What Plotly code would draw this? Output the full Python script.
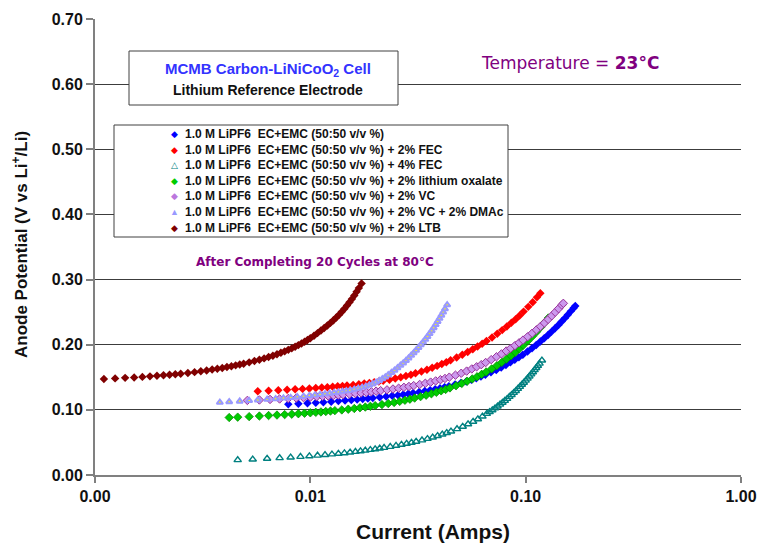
import plotly.graph_objects as go

# ---------------------------------------------------------------------------
# Anode potential vs. current, MCMB carbon / LiNiCoO2 cells (20 cycles at 80 C)
# ---------------------------------------------------------------------------

# 1.0 M LiPF6 EC+EMC (50:50 v/v %)
current_base = [0.0079, 0.0088, 0.0097, 0.0106, 0.0115, 0.0125, 0.0135, 0.0145, 0.0155, 0.0165,
                0.0175, 0.0185, 0.0195, 0.021, 0.0225, 0.024, 0.0255, 0.027, 0.0285, 0.03,
                0.032, 0.034, 0.036, 0.038, 0.04, 0.042, 0.044, 0.047, 0.05, 0.053,
                0.056, 0.059, 0.062, 0.065, 0.069, 0.073, 0.077, 0.081, 0.085, 0.089,
                0.093, 0.097, 0.102, 0.107, 0.112, 0.117, 0.122, 0.127, 0.132, 0.137,
                0.142, 0.147, 0.152, 0.157, 0.162, 0.167, 0.17]
potential_base = [0.1085, 0.1094, 0.1102, 0.1110, 0.1118, 0.1126, 0.1135, 0.1144, 0.1152, 0.1159,
                  0.1167, 0.1175, 0.1182, 0.1193, 0.1204, 0.1215, 0.1226, 0.1236, 0.1247, 0.1258,
                  0.1273, 0.1288, 0.1303, 0.1318, 0.1333, 0.1349, 0.1364, 0.1388, 0.1411, 0.1436,
                  0.1460, 0.1486, 0.1512, 0.1540, 0.1576, 0.1613, 0.1651, 0.1690, 0.1729, 0.1768,
                  0.1808, 0.1847, 0.1897, 0.1947, 0.1997, 0.2048, 0.2099, 0.2150, 0.2201, 0.2252,
                  0.2304, 0.2356, 0.2408, 0.2460, 0.2512, 0.2564, 0.2595]

# + 2% FEC
current_fec2 = [0.0057, 0.0064, 0.0071, 0.0078, 0.0085, 0.0092, 0.0099, 0.0106, 0.0113, 0.012,
                0.0127, 0.0134, 0.0141, 0.0148, 0.0158, 0.0168, 0.0178, 0.0188, 0.0198, 0.0208,
                0.0218, 0.0233, 0.0248, 0.0263, 0.0278, 0.0293, 0.0308, 0.0328, 0.0348, 0.0368,
                0.0388, 0.0408, 0.0428, 0.0448, 0.0478, 0.0508, 0.0538, 0.0568, 0.0598, 0.0628,
                0.0658, 0.0698, 0.0738, 0.0778, 0.0818, 0.0858, 0.0898, 0.0938, 0.0978, 0.1028,
                0.1078, 0.1128, 0.117]
potential_fec2 = [0.1285, 0.1293, 0.1300, 0.1308, 0.1315, 0.1322, 0.1329, 0.1335, 0.1342, 0.1348,
                  0.1354, 0.1361, 0.1367, 0.1373, 0.1383, 0.1393, 0.1403, 0.1413, 0.1423, 0.1434,
                  0.1446, 0.1463, 0.1481, 0.1499, 0.1520, 0.1540, 0.1561, 0.1589, 0.1617, 0.1646,
                  0.1675, 0.1704, 0.1732, 0.1761, 0.1803, 0.1846, 0.1888, 0.1930, 0.1972, 0.2014,
                  0.2056, 0.2112, 0.2168, 0.2224, 0.2280, 0.2336, 0.2392, 0.2450, 0.2508, 0.2581,
                  0.2653, 0.2727, 0.2790]

# + 4% FEC
current_fec4 = [0.0046, 0.0054, 0.0063, 0.0072, 0.0081, 0.009, 0.0099, 0.0108, 0.0117, 0.0126,
                0.0135, 0.0144, 0.0153, 0.0162, 0.0171, 0.018, 0.019, 0.02, 0.021, 0.022,
                0.0235, 0.025, 0.0265, 0.028, 0.0295, 0.031, 0.033, 0.035, 0.037, 0.039,
                0.041, 0.043, 0.045, 0.048, 0.051, 0.054, 0.057, 0.06, 0.063, 0.066,
                0.068, 0.07, 0.072, 0.074, 0.076, 0.078, 0.08, 0.082, 0.084, 0.086,
                0.088, 0.09, 0.092, 0.094, 0.096, 0.098, 0.1, 0.102, 0.104, 0.106,
                0.108, 0.11, 0.112, 0.114, 0.116, 0.119]
potential_fec4 = [0.0230, 0.0240, 0.0251, 0.0261, 0.0271, 0.0280, 0.0290, 0.0299, 0.0309, 0.0318,
                  0.0328, 0.0337, 0.0347, 0.0357, 0.0367, 0.0376, 0.0387, 0.0398, 0.0408, 0.0419,
                  0.0434, 0.0450, 0.0466, 0.0481, 0.0497, 0.0513, 0.0534, 0.0556, 0.0578, 0.0600,
                  0.0624, 0.0647, 0.0670, 0.0706, 0.0743, 0.0781, 0.0820, 0.0858, 0.0899, 0.0940,
                  0.0968, 0.0995, 0.1024, 0.1053, 0.1082, 0.1111, 0.1140, 0.1170, 0.1201, 0.1231,
                  0.1262, 0.1292, 0.1324, 0.1355, 0.1387, 0.1418, 0.1450, 0.1482, 0.1515, 0.1547,
                  0.1580, 0.1612, 0.1645, 0.1678, 0.1711, 0.1760]

# + 2% lithium oxalate
current_oxalate = [0.0042, 0.0046, 0.0052, 0.0058, 0.0064, 0.007, 0.0076, 0.0082, 0.0088, 0.0094,
                   0.01, 0.0106, 0.0112, 0.0118, 0.0124, 0.013, 0.014, 0.015, 0.016, 0.017,
                   0.018, 0.019, 0.02, 0.0215, 0.023, 0.0245, 0.026, 0.0275, 0.029, 0.0305,
                   0.0325, 0.0345, 0.0365, 0.0385, 0.0405, 0.0425, 0.0445, 0.0475, 0.0505, 0.0535,
                   0.0565, 0.0595, 0.0625, 0.0655, 0.0695, 0.0735, 0.0775, 0.0815, 0.0855, 0.0895,
                   0.0935, 0.0975, 0.1025, 0.1075, 0.1125, 0.1175, 0.1225, 0.1274]
potential_oxalate = [0.0882, 0.0888, 0.0896, 0.0905, 0.0913, 0.0920, 0.0927, 0.0934, 0.0941, 0.0948,
                     0.0955, 0.0962, 0.0968, 0.0975, 0.0981, 0.0988, 0.0999, 0.1010, 0.1021, 0.1032,
                     0.1043, 0.1054, 0.1065, 0.1081, 0.1097, 0.1114, 0.1130, 0.1147, 0.1164, 0.1181,
                     0.1203, 0.1225, 0.1247, 0.1269, 0.1292, 0.1314, 0.1337, 0.1371, 0.1406, 0.1440,
                     0.1475, 0.1509, 0.1545, 0.1581, 0.1629, 0.1679, 0.1729, 0.1780, 0.1832, 0.1884,
                     0.1937, 0.1991, 0.2060, 0.2130, 0.2200, 0.2270, 0.2341, 0.2410]

# + 2% VC
current_vc = [0.0051, 0.0058, 0.0065, 0.0072, 0.0079, 0.0086, 0.0093, 0.01, 0.0107, 0.0114,
              0.0121, 0.0128, 0.0135, 0.0142, 0.0152, 0.0162, 0.0172, 0.0182, 0.0192, 0.0202,
              0.0212, 0.0227, 0.0242, 0.0257, 0.0272, 0.0287, 0.0302, 0.0322, 0.0342, 0.0362,
              0.0382, 0.0402, 0.0422, 0.0442, 0.0472, 0.0502, 0.0532, 0.0562, 0.0592, 0.0622,
              0.0652, 0.0692, 0.0732, 0.0772, 0.0812, 0.0852, 0.0892, 0.0932, 0.0972, 0.1022,
              0.1072, 0.1122, 0.1172, 0.1222, 0.1272, 0.1322, 0.1372, 0.1422, 0.1472, 0.1496]
potential_vc = [0.1145, 0.1152, 0.1160, 0.1167, 0.1174, 0.1181, 0.1188, 0.1195, 0.1201, 0.1208,
                0.1214, 0.1220, 0.1227, 0.1233, 0.1242, 0.1251, 0.1260, 0.1269, 0.1278, 0.1287,
                0.1295, 0.1307, 0.1320, 0.1332, 0.1346, 0.1359, 0.1372, 0.1390, 0.1408, 0.1426,
                0.1444, 0.1463, 0.1482, 0.1502, 0.1532, 0.1562, 0.1595, 0.1628, 0.1661, 0.1694,
                0.1727, 0.1771, 0.1815, 0.1859, 0.1903, 0.1945, 0.1987, 0.2029, 0.2071, 0.2123,
                0.2176, 0.2228, 0.2281, 0.2334, 0.2389, 0.2444, 0.2499, 0.2554, 0.2609, 0.2635]

# + 2% VC + 2% DMAc
current_vc_dmac = [0.0038, 0.0042, 0.0047, 0.0052, 0.0057, 0.0063, 0.0069, 0.0075, 0.0081, 0.0087,
                   0.0093, 0.0099, 0.0105, 0.0111, 0.0117, 0.0123, 0.0129, 0.0135, 0.0141, 0.0147,
                   0.0153, 0.016, 0.0167, 0.0174, 0.0181, 0.0188, 0.0195, 0.0202, 0.0209, 0.0216,
                   0.0223, 0.023, 0.0238, 0.0246, 0.0254, 0.0262, 0.027, 0.0278, 0.0286, 0.0294,
                   0.0302, 0.031, 0.0318, 0.0326, 0.0334, 0.0342, 0.035, 0.0358, 0.0366, 0.0374,
                   0.0382, 0.039, 0.0398, 0.0406, 0.0414, 0.0422, 0.0432]
potential_vc_dmac = [0.1115, 0.1123, 0.1132, 0.1141, 0.1150, 0.1160, 0.1170, 0.1180, 0.1189, 0.1198,
                     0.1207, 0.1217, 0.1226, 0.1235, 0.1245, 0.1254, 0.1263, 0.1273, 0.1282, 0.1292,
                     0.1301, 0.1315, 0.1330, 0.1345, 0.1360, 0.1380, 0.1400, 0.1423, 0.1449, 0.1475,
                     0.1504, 0.1535, 0.1571, 0.1607, 0.1644, 0.1681, 0.1718, 0.1756, 0.1795, 0.1835,
                     0.1875, 0.1915, 0.1956, 0.1998, 0.2039, 0.2081, 0.2125, 0.2169, 0.2213, 0.2259,
                     0.2307, 0.2355, 0.2403, 0.2452, 0.2500, 0.2549, 0.2610]

# + 2% LTB
current_ltb = [0.0011, 0.00124, 0.00138, 0.00152, 0.00166, 0.0018, 0.00194, 0.00208, 0.00222, 0.00236,
               0.0025, 0.0027, 0.0029, 0.0031, 0.0033, 0.0035, 0.0037, 0.0039, 0.0041, 0.0043,
               0.0045, 0.0047, 0.0049, 0.0052, 0.0055, 0.0058, 0.0061, 0.0064, 0.0067, 0.007,
               0.0073, 0.0076, 0.0079, 0.0082, 0.0085, 0.0088, 0.0091, 0.0094, 0.0097, 0.01,
               0.0104, 0.0108, 0.0112, 0.0116, 0.012, 0.0124, 0.0128, 0.0132, 0.0136, 0.014,
               0.0144, 0.0148, 0.0152, 0.0156, 0.016, 0.0164, 0.0168, 0.0173]
potential_ltb = [0.1475, 0.1483, 0.1491, 0.1498, 0.1506, 0.1514, 0.1522, 0.1530, 0.1538, 0.1547,
                 0.1555, 0.1567, 0.1579, 0.1592, 0.1605, 0.1618, 0.1631, 0.1644, 0.1657, 0.1670,
                 0.1683, 0.1696, 0.1709, 0.1729, 0.1749, 0.1769, 0.1790, 0.1811, 0.1832, 0.1853,
                 0.1876, 0.1898, 0.1921, 0.1944, 0.1969, 0.1994, 0.2019, 0.2046, 0.2073, 0.2100,
                 0.2139, 0.2178, 0.2217, 0.2256, 0.2295, 0.2335, 0.2375, 0.2417, 0.2461, 0.2505,
                 0.2553, 0.2601, 0.2651, 0.2703, 0.2755, 0.2812, 0.2869, 0.2940]

base_label = "1.0 M LiPF6\u00a0\u00a0EC+EMC (50:50 v/v %)"
series_labels = [
    base_label,
    base_label + " + 2% FEC",
    base_label + " + 4% FEC",
    base_label + " + 2% lithium oxalate",
    base_label + " + 2% VC",
    base_label + " + 2% VC + 2% DMAc",
    base_label + " + 2% LTB",
]

x_tick_values = [0.001, 0.01, 0.1, 1.0]
x_tick_labels = ["0.00", "0.01", "0.10", "1.00"]
y_tick_values = [0.0, 0.1, 0.2, 0.3, 0.4, 0.5, 0.6, 0.7]
y_tick_labels = ["0.00", "0.10", "0.20", "0.30", "0.40", "0.50", "0.60", "0.70"]

# ---------------------------------------------------------------------------
# Figure geometry (pixels) and helpers to place overlays in paper space
# ---------------------------------------------------------------------------
W, H = 757, 546
ML, MR, MT, MB = 95, 16, 19, 71
PW, PH = W - ML - MR, H - MT - MB


def px_x(px):
    return (px - ML) / PW


def px_y(py):
    return (H - MB - py) / PH


FONT = "Liberation Sans, Arial, sans-serif"
CASUAL = "DejaVu Sans, sans-serif"
PURPLE = "#800080"

markers = [
    dict(symbol="diamond", size=6.5, color="#0000FF", line=dict(width=0)),
    dict(symbol="diamond", size=6.5, color="#FF0000", line=dict(width=0)),
    dict(symbol="triangle-up-open", size=6.5, color="#008080", line=dict(width=1.4)),
    dict(symbol="diamond", size=6.5, color="#00CC00", line=dict(width=0.7, color="#008800")),
    dict(symbol="diamond", size=6.5, color="#CC99EE", line=dict(width=1, color="#993399")),
    dict(symbol="triangle-up", size=5.5, color="#FFFF00", line=dict(width=2, color="#9999FF")),
    dict(symbol="diamond", size=6.5, color="#800000", line=dict(width=0)),
]
data = [
    (current_base, potential_base),
    (current_fec2, potential_fec2),
    (current_fec4, potential_fec4),
    (current_oxalate, potential_oxalate),
    (current_vc, potential_vc),
    (current_vc_dmac, potential_vc_dmac),
    (current_ltb, potential_ltb),
]

fig = go.Figure()
for label, (cur, pot), mk in zip(series_labels, data, markers):
    fig.add_trace(go.Scatter(x=cur, y=pot, mode="markers", name=label,
                             marker=mk, showlegend=False, hoverinfo="x+y+name"))

# Legend drawn as a boxed block of text with coloured glyphs
legend_glyphs = [
    ("\u25C6", "#0000FF"),
    ("\u25C6", "#FF0000"),
    ("\u25B3", "#008080"),
    ("\u25C6", "#00CC00"),
    ("\u25C6", "#BB77DD"),
    ("\u25B2", "#9999FF"),
    ("\u25C6", "#800000"),
]
glyph_text = "<br>".join(
    f"<span style='font-size:9px;color:{c}'>{g}</span>" for g, c in legend_glyphs)
legend_text = "<br>".join(f"<b>{s}</b>" for s in series_labels)

shapes = [
    dict(type="rect", xref="paper", yref="paper",
         x0=px_x(129), x1=px_x(398), y0=px_y(105), y1=px_y(51),
         line=dict(color="#404040", width=1), fillcolor="white", layer="above"),
    dict(type="rect", xref="paper", yref="paper",
         x0=px_x(114), x1=px_x(508), y0=px_y(237), y1=px_y(125),
         line=dict(color="#404040", width=1), fillcolor="white", layer="above"),
]

annotations = [
    dict(x=px_x(174), y=px_y(181), xref="paper", yref="paper", xanchor="center", yanchor="middle",
         text=glyph_text, showarrow=False, align="center", font=dict(family=FONT, size=12)),
    dict(x=px_x(183), y=px_y(181), xref="paper", yref="paper", xanchor="left", yanchor="middle",
         text=legend_text, showarrow=False, align="left",
         font=dict(family=FONT, size=12, color="#111111")),
    dict(x=px_x(268), y=px_y(69), xref="paper", yref="paper", xanchor="center", yanchor="middle",
         text="<b>MCMB Carbon-LiNiCoO<sub>2</sub> Cell</b>", showarrow=False,
         font=dict(family=FONT, size=15, color="#3333FF")),
    dict(x=px_x(268), y=px_y(90), xref="paper", yref="paper", xanchor="center", yanchor="middle",
         text="<b>Lithium Reference Electrode</b>", showarrow=False,
         font=dict(family=FONT, size=14, color="#111111")),
    dict(x=px_x(570), y=px_y(63), xref="paper", yref="paper", xanchor="center", yanchor="middle",
         text="Temperature = <b>23°C</b>", showarrow=False,
         font=dict(family=CASUAL, size=17, color=PURPLE)),
    dict(x=px_x(315), y=px_y(262), xref="paper", yref="paper", xanchor="center", yanchor="middle",
         text="<b>After Completing 20 Cycles at 80°C</b>", showarrow=False,
         font=dict(family=CASUAL, size=12, color=PURPLE)),
    dict(x=px_x(20), y=px_y(245), xref="paper", yref="paper", xanchor="center", yanchor="middle",
         text="<b>Anode Potential (V vs Li<sup>+</sup>/Li)</b>", showarrow=False, textangle=-90,
         font=dict(family=FONT, size=17, color="#111111")),
    dict(x=px_x(433), y=px_y(531), xref="paper", yref="paper", xanchor="center", yanchor="middle",
         text="<b>Current (Amps)</b>", showarrow=False,
         font=dict(family=FONT, size=21, color="#111111")),
]

fig.update_layout(
    width=W, height=H,
    margin=dict(l=ML, r=MR, t=MT, b=MB, autoexpand=False),
    paper_bgcolor="white", plot_bgcolor="white",
    font=dict(family=FONT, color="#111111"),
    shapes=shapes, annotations=annotations,
    showlegend=False,
    xaxis=dict(type="log", range=[-3, 0], tickvals=x_tick_values, ticktext=x_tick_labels,
               ticks="outside", ticklen=6, tickwidth=1.5, tickcolor="#808080",
               showline=True, linecolor="#808080", linewidth=2,
               showgrid=False, zeroline=False,
               tickfont=dict(family=FONT, size=16, color="#111111", weight="bold")),
    yaxis=dict(range=[0, 0.7], tickvals=y_tick_values, ticktext=y_tick_labels,
               ticks="outside", ticklen=7, tickwidth=1.5, tickcolor="#808080",
               showline=True, linecolor="#808080", linewidth=2,
               showgrid=True, gridcolor="#3c3c3c", gridwidth=1, zeroline=False,
               tickfont=dict(family=FONT, size=16, color="#111111", weight="bold")),
)

fig.write_html("out.html")
